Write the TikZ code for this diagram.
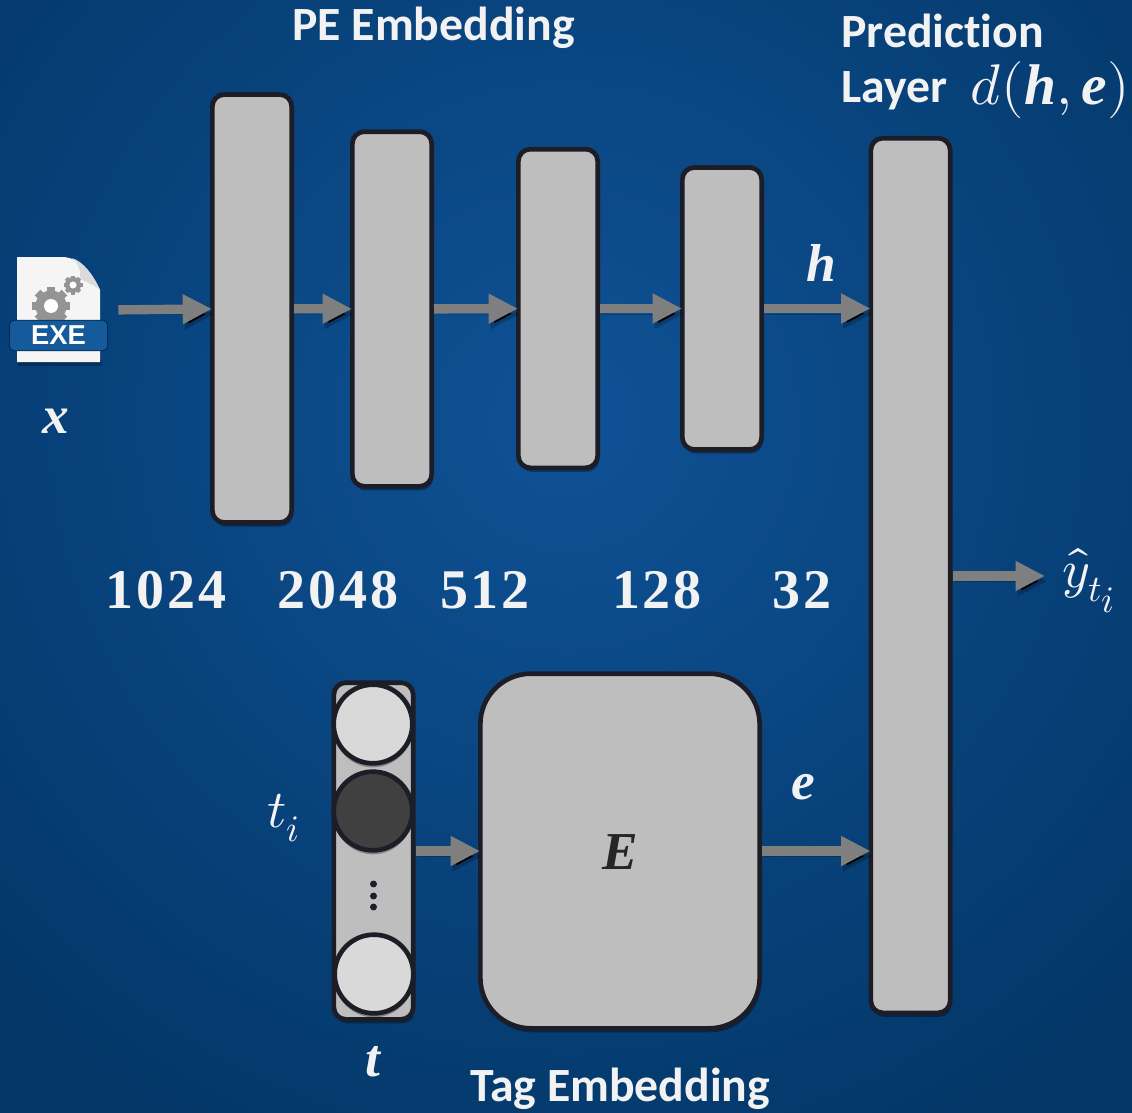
\documentclass[tikz,border=0pt]{standalone}
\usepackage{amsmath}
\usepackage{fontspec}
\usepackage{unicode-math}
\setmathfont{Latin Modern Math}
\newfontfamily\lblfont[Ligatures=NoCommon]{Carlito}
\newfontfamily\exefont{Liberation Sans}
\newfontfamily\numfont[LetterSpace=5]{Liberation Serif}
\newfontfamily\bmfont{Liberation Serif}
\newcommand{\bmv}[1]{\mbox{\bmfont\bfseries\itshape #1}}
\usetikzlibrary{arrows.meta,shadows}
\definecolor{bgin}{HTML}{0F5296}
\definecolor{bgout}{HTML}{033768}
\definecolor{edgec}{HTML}{1C1D26}
\definecolor{blockc}{HTML}{BEBEBE}
\definecolor{arwc}{HTML}{7F7F7F}
\definecolor{lblc}{HTML}{F2F2F2}
\definecolor{bandc}{HTML}{155A9A}
\tikzset{
  lyr/.style={rectangle,rounded corners=9pt,draw=edgec,fill=blockc,line width=3.5pt,minimum width=59.5pt,inner sep=0pt,
    drop shadow={shadow xshift=1pt,shadow yshift=-3pt,opacity=.35,fill=black}},
  tagc/.style={circle,draw=edgec,line width=3.5pt,minimum size=59pt,inner sep=0pt,
    drop shadow={shadow xshift=0pt,shadow yshift=-3pt,opacity=.3,fill=black}},
  dotc/.style={circle,fill=edgec,minimum size=5.2pt,inner sep=0pt},
  arw/.style={-{Triangle[length=22pt,width=21pt]},line width=7pt,draw=arwc,shorten >=-1.5pt,
    preaction={draw=black,draw opacity=.22,transform canvas={shift={(1.5pt,-4pt)}}}},
  lb/.style={font=\fontsize{35.8}{40}\selectfont\lblfont\bfseries,text=lblc,inner sep=0pt},
  num/.style={font=\fontsize{42}{46}\selectfont\numfont\bfseries,text=lblc,inner sep=0pt},
  mth/.style={font=\fontsize{40}{46}\selectfont,text=lblc,inner sep=0pt},
  gearc/.style={fill=black!42},
}
\begin{document}
\begin{tikzpicture}[x=.75pt,y=-.75pt]
\useasboundingbox (0,0) rectangle (1132,1113);
% background
\begin{scope}
  \clip (0,0) rectangle (1132,1113);
  \shade[inner color=bgin,outer color=bgout] (-234,-380) rectangle (1366,1220);
\end{scope}
% exe file icon
\node (exe) at (58.5,310) [minimum width=74.5pt,minimum height=78pt,inner sep=0pt] {};
\fill[black,opacity=.25] (18,360) rectangle (102,366);
\fill[white!96!black] (17,257) -- (63,257) .. controls (80,258) and (92,272) .. (100,290) -- (100,362) -- (17,362) -- cycle;
\fill[black!14] (72,258) .. controls (84,262) and (93,275) .. (100,290) .. controls (92,283) and (84,282) .. (80,278) .. controls (81,270) and (78,263) .. (72,258) -- cycle;
\foreach \cx/\cy/\ri/\ro/\tw in {51/306/14/19/4, 73/285/6.5/9.5/2} {
  \fill[gearc] (\cx,\cy) circle[radius=\ri+1.5];
  \foreach \a in {0,45,...,315}
    \fill[gearc,shift={(\cx,\cy)},rotate=\a] (-\tw,-\ro) rectangle (\tw,-\ri);
}
\fill[white] (51,306) circle[radius=7];
\fill[white] (73,285) circle[radius=3.5];
\node[rectangle,rounded corners=3.5pt,draw=black!25!bgout,fill=bandc,line width=.6pt,minimum width=73.5pt,minimum height=23pt,inner sep=0pt,text=white,font=\fontsize{20.5}{24}\selectfont\exefont\bfseries] (exeband) at (58.5,335.5) {EXE};
% PE embedding layers
\foreach \x/\y/\h/\n in {252/308.5/321/1, 392/309/266/2, 558/308.5/239/3, 722/308.5/211.5/4}
  \node[lyr,minimum height=\h pt] (L\n) at (\x,\y) {};
\node[lyr,minimum height=656pt] (pred) at (910.5,575.5) {};
% tag embedding
\node[lyr,minimum height=252.5pt] (tag) at (373.5,851) {};
\node[lyr,rounded corners=38pt,minimum width=209.5pt,minimum height=266pt] (emb) at (620,851) {};
\node[tagc,fill=black!15] (t1) at (373,724) {};
\node[tagc,fill=black!75] (t2) at (373,811) {};
\node[tagc,fill=black!15] (t3) at (374,974) {};
\foreach \y/\n in {884/1, 896/2, 907/3}
  \node[dotc] (d\n) at (373.5,\y) {};
% connectors
\coordinate (yout) at (1043,576);
\draw[arw,shorten <=7.5pt] (exe.east) -- (L1);
\draw[arw] (L1) -- (L2);
\draw[arw] (L2) -- (L3);
\draw[arw] (L3) -- (L4);
\draw[arw] (L4.east) -- (L4.east -| pred.west);
\draw[arw] (tag) -- (emb);
\draw[arw] (emb.east) -- (emb.east -| pred.west);
\draw[arw] (pred.east |- yout) -- (yout);
% labels
\node[lb] (tpe) at (433.5,28) {PE Embedding};
\node[lb] (ttag) at (620,1089) {Tag Embedding};
\node[lb,anchor=west] (tpred) at (841,31) {Prediction};
\node[lb,anchor=west] (tlay) at (841,91) {Layer};
\node[mth,font=\fontsize{43}{48}\selectfont] (dhe) at (1050,90) {$d(\bmv{h},\bmv{e})$};
\node[mth] (lh) at (821,263) {\bmv{h}};
\node[mth] (le) at (803,787) {\bmv{e}};
\node[mth,text=black!85] (lE) at (620,852) {\bmv{E}};
\node[mth] (lx) at (56,421) {\bmv{x}};
\node[mth] (lt) at (373,1062) {\bmv{t}};
\node[mth] (lti) at (284,818) {$t_i$};
\node[mth] (ly) at (1089,581) {$\hat{y}_{t_{\scriptstyle i}}$};
\foreach \x/\t in {166/1024, 338/2048, 485/512, 657/128, 802/32}
  \node[num] (n\t) at (\x,590) {\t};
\end{tikzpicture}
\end{document}
